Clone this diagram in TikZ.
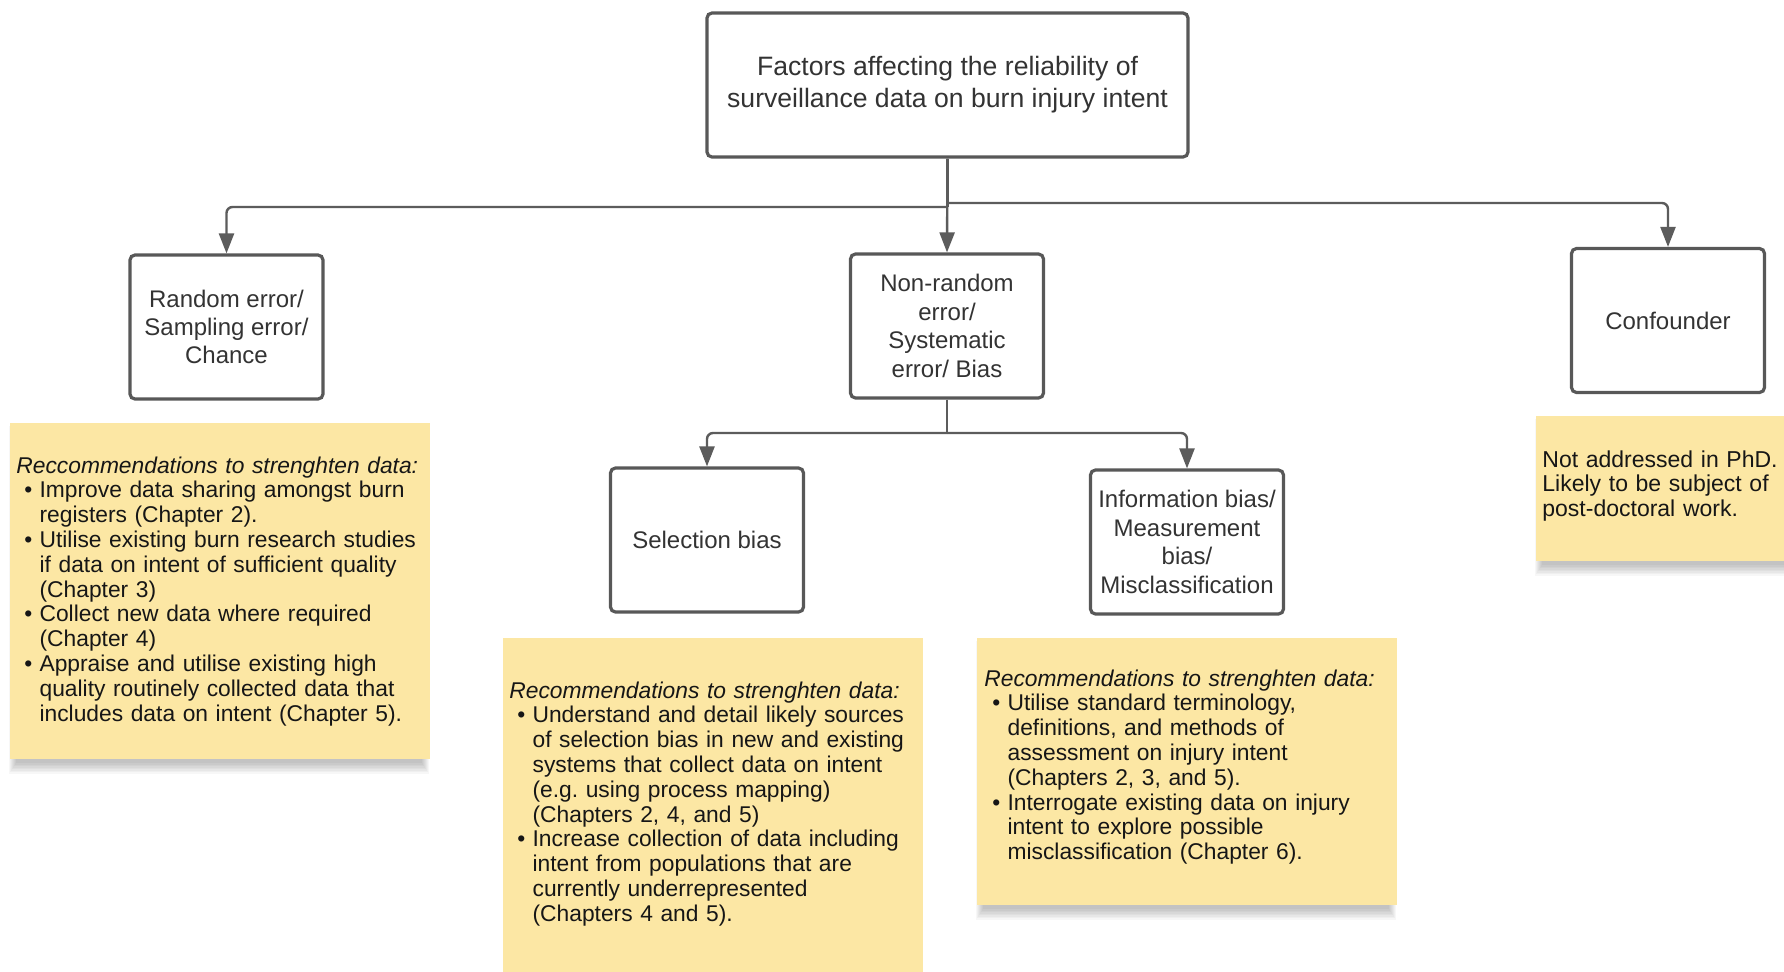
\documentclass[tikz,border=0pt]{standalone}
\usepackage{fontspec}
\setmainfont{Liberation Sans}
\usetikzlibrary{arrows.meta}

\definecolor{boxline}{RGB}{88,88,88}
\definecolor{boxtext}{RGB}{51,51,51}
\definecolor{linkgray}{RGB}{92,92,92}
\definecolor{notefill}{RGB}{252,231,164}
\definecolor{notetext}{RGB}{22,22,22}

% bullet and hanging indent for the recommendation lists
\newcommand\nbul{\makebox[11.6pt][l]{\hspace{4pt}\textbullet}}
\newcommand\nind{\hspace*{11.6pt}}

% soft shadow under a sticky note (corners in px)
\newcommand\softshadow[4]{%
  \foreach \k in {0,1,...,7}{%
    \fill[black,opacity=0.03] ({#1+6-\k},{#2+10-\k}) rectangle ({#3-8+\k},{#4+4+1.5*\k});}}

\begin{document}
\begin{tikzpicture}[x=0.5pt,y=-0.5pt,
  factor/.style={draw=boxline, line width=1.6pt, rounded corners=2.5pt, fill=white,
    text=boxtext, align=center, font=\fontsize{12}{14.2}\selectfont,
    inner sep=0pt, minimum width=96.5pt, minimum height=72pt},
  headbox/.style={factor, minimum width=240.5pt, font=\fontsize{13.3}{16}\selectfont},
  trunk/.style={draw=linkgray, line width=1.2pt},
  link/.style={trunk, rounded corners=3pt, -{Triangle[length=10pt,width=7.5pt]}},
  note/.style={fill=notefill, inner sep=0pt, anchor=north west},
  notetxt/.style={text=notetext, align=left, inner sep=0pt, anchor=base west,
    text width=205pt, font=\fontsize{11.4}{12.4}\selectfont}
]
\fill[white] (0,0) rectangle (1784,971);
\useasboundingbox (0,0) rectangle (1784,971);

% ---- sticky notes ----
\softshadow{10}{423}{430}{759}
\node[note, minimum width=210pt, minimum height=168pt] (n1) at (10,423) {};
\softshadow{977}{638}{1397}{905}
\node[note, minimum width=210pt, minimum height=133.5pt] (n3) at (977,638) {};
\node[note, minimum width=210pt, minimum height=185pt] (n2) at (503,638) {};
\softshadow{1536}{416}{1800}{561}
\node[note, minimum width=130pt, minimum height=72.5pt] (n4) at (1536,416) {};

\node[notetxt] (t1) at (16,473) {\textit{Reccommendations to strenghten data:}\\
\nbul Improve data sharing amongst burn\\
\nind registers (Chapter 2).\\
\nbul Utilise existing burn research studies\\
\nind if data on intent of sufficient quality\\
\nind (Chapter 3)\\
\nbul Collect new data where required\\
\nind (Chapter 4)\\
\nbul Appraise and utilise existing high\\
\nind quality routinely collected data that\\
\nind includes data on intent (Chapter 5).};

\node[notetxt] (t2) at (509,698) {\textit{Recommendations to strenghten data:}\\
\nbul Understand and detail likely sources\\
\nind of selection bias in new and existing\\
\nind systems that collect data on intent\\
\nind (e.g.\ using process mapping)\\
\nind (Chapters 2, 4, and 5)\\
\nbul Increase collection of data including\\
\nind intent from populations that are\\
\nind currently underrepresented\\
\nind (Chapters 4 and 5).};

\node[notetxt] (t3) at (984,686) {\textit{Recommendations to strenghten data:}\\
\nbul Utilise standard terminology,\\
\nind definitions, and methods of\\
\nind assessment on injury intent\\
\nind (Chapters 2, 3, and 5).\\
\nbul Interrogate existing data on injury\\
\nind intent to explore possible\\
\nind misclassification (Chapter 6).};

\node[notetxt, text width=120pt, font=\fontsize{11.5}{12.4}\selectfont] (t4) at (1542,467) {Not addressed in PhD.\\
Likely to be subject of\\
post-doctoral work.};

% ---- factor boxes ----
\node[headbox] (top) at (947.5,85) {Factors affecting the reliability of\\surveillance data on burn injury intent};
\node[factor] (rand) at (226.5,327) {Random error/\\Sampling error/\\Chance};
\node[factor] (nonrand) at (947,326) {Non-random\\error/\\Systematic\\error/ Bias};
\node[factor] (conf) at (1668,320.5) {Confounder};
\node[factor] (sel) at (707,540) {Selection bias};
\node[factor] (info) at (1187,542) {Information bias/\\Measurement\\bias/\\Misclassification};

% ---- connectors ----
\coordinate (jl) at (947.5,207);
\coordinate (jr) at (947.5,203);
\draw[trunk] (top.south) -- (jl);
\draw[link] (jl) -| (rand.north);
\draw[link] (jr) -| (conf.north);
\draw[link] (top.south) -- (nonrand.north);

\coordinate (jb) at (947,433);
\draw[trunk] (nonrand.south) -- (jb);
\draw[link] (jb) -| (sel.north);
\draw[link] (jb) -| (info.north);
\end{tikzpicture}
\end{document}
